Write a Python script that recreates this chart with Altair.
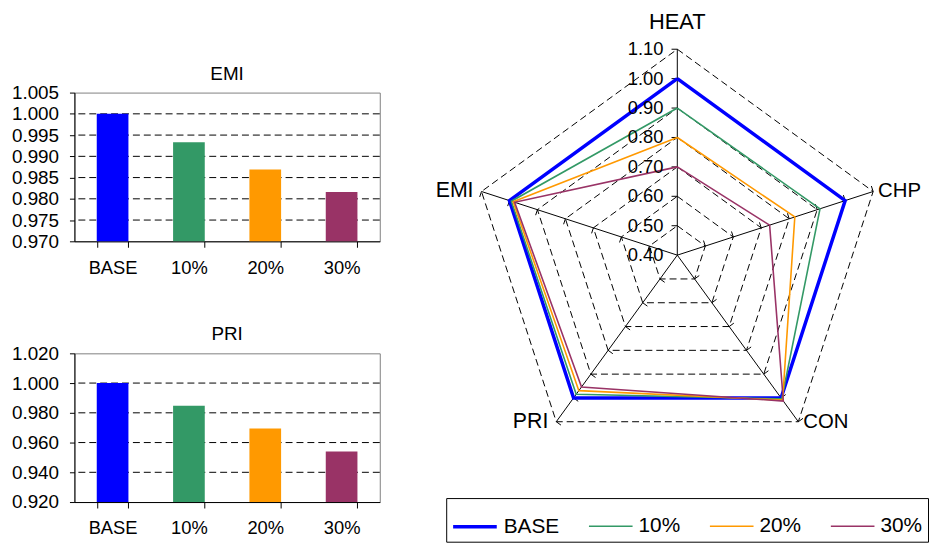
import altair as alt
import pandas as pd

# ---------------- data ----------------
series = ["BASE", "10%", "20%", "30%"]
series_colors = ["#0000FF", "#339966", "#FF9900", "#993366"]
series_widths = [3.5, 1.6, 1.6, 1.6]

emi_values = [1.000, 0.9933, 0.9869, 0.9816]
pri_values = [1.000, 0.9848, 0.9694, 0.9540]
emi_ticks = [0.970, 0.975, 0.980, 0.985, 0.990, 0.995, 1.000, 1.005]
pri_ticks = [0.920, 0.940, 0.960, 0.980, 1.000, 1.020]

radar_axes = ["HEAT", "CHP", "CON", "PRI", "EMI"]
heat_values = [1.00, 0.90, 0.80, 0.70]
chp_values = [1.00, 0.91, 0.82, 0.73]
con_values = [1.000, 1.004, 1.009, 1.013]
pri_radar_values = pri_values
emi_radar_values = emi_values
radar_ticks = [0.40, 0.50, 0.60, 0.70, 0.80, 0.90, 1.00, 1.10]

# ---------------- style / layout ----------------
FONT = "Liberation Sans"
S = 207.7                 # pixels per radar unit
XMIN, XMAX = -1.185, 1.17
YMIN, YMAX = -0.915, 1.189

color_scale = alt.Scale(domain=series, range=series_colors)


def bar_panel(title, values, ticks):
    df = pd.DataFrame({"series": series, "value": values})
    grid_df = pd.DataFrame({"g": ticks[1:-1]})
    ys = alt.Scale(domain=[ticks[0], ticks[-1]], nice=False, zero=False)
    yaxis = alt.Axis(values=ticks, format=".3f", title=None, grid=False,
                     tickSize=5, labelPadding=11, labelFontSize=19,
                     labelFont=FONT, domainColor="black", tickColor="black",
                     labelColor="black")
    xaxis = alt.Axis(title=None, labelAngle=0, tickBand="extent", tickSize=6,
                     labelPadding=11, labelFontSize=18.5, labelFont=FONT,
                     domainColor="black", tickColor="black", labelColor="black")
    grid = alt.Chart(grid_df).mark_rule(color="black", strokeDash=[7, 4],
                                        strokeWidth=1).encode(
        y=alt.Y("g:Q", scale=ys, axis=yaxis))
    bars = alt.Chart(df).mark_bar().encode(
        x=alt.X("series:N", sort=series,
                scale=alt.Scale(paddingInner=0.585, paddingOuter=0.2925),
                axis=xaxis),
        y=alt.Y("value:Q", scale=ys, axis=yaxis),
        y2=alt.datum(ticks[0]),
        color=alt.Color("series:N", scale=color_scale, legend=None),
    )
    return alt.layer(grid, bars).properties(
        width=308, height=150,
        title=alt.TitleParams(title, fontSize=19, fontWeight="normal",
                              font=FONT, color="black", offset=0),
    )


emi_chart = bar_panel("EMI", emi_values, emi_ticks)
pri_chart = bar_panel("PRI", pri_values, pri_ticks)

spacer = alt.Chart(pd.DataFrame({"a": []})).mark_point(opacity=0).properties(
    width=300, height=6, view=alt.ViewBackground(stroke=None))

left = alt.vconcat(spacer, emi_chart, pri_chart, spacing=48)

# ---------------- radar ----------------
value_table = [heat_values, chp_values, con_values, pri_radar_values, emi_radar_values]
rows = []
for si, s in enumerate(series):
    for k in range(6):
        rows.append({"series": s, "k": k, "v": value_table[k % 5][si]})
radar_df = pd.DataFrame(rows)

ring_rows = []
for lv in radar_ticks[1:]:
    for k in range(6):
        ring_rows.append({"level": lv, "k": k, "v": lv})
ring_df = pd.DataFrame(ring_rows)

tick_rows = []
for k in range(5):
    for lv in radar_ticks[1:]:
        tick_rows.append({"k": k, "v": lv})
tick_df = pd.DataFrame(tick_rows)

spoke_df = pd.DataFrame({"k": list(range(5)), "name": radar_axes})
rlabel_df = pd.DataFrame({"v": radar_ticks})

xs = alt.Scale(domain=[XMIN, XMAX], nice=False, zero=False)
ys = alt.Scale(domain=[YMIN, YMAX], nice=False, zero=False)

THETA = "(PI/2 - datum.k * 2 * PI / 5)"
R = "((datum.v - 0.4) / 0.7)"


def polar(chart):
    return chart.transform_calculate(
        px=f"{R} * cos{THETA}",
        py=f"{R} * sin{THETA}",
    )


rings = polar(alt.Chart(ring_df)).mark_line(
    color="black", strokeDash=[7, 4], strokeWidth=1).encode(
    x=alt.X("px:Q", scale=xs, axis=None),
    y=alt.Y("py:Q", scale=ys, axis=None),
    detail="level:N",
    order="k:Q",
)

spokes = alt.Chart(spoke_df).transform_calculate(
    ox="0", oy="0",
    ex=f"cos{THETA}", ey=f"sin{THETA}",
).mark_rule(color="black", strokeWidth=1).encode(
    x=alt.X("ox:Q", scale=xs, axis=None),
    y=alt.Y("oy:Q", scale=ys, axis=None),
    x2="ex:Q", y2="ey:Q",
)

ticks = polar(alt.Chart(tick_df)).transform_calculate(
    tx=f"datum.px - 0.028 * sin{THETA}",
    ty=f"datum.py + 0.028 * cos{THETA}",
).mark_rule(color="black", strokeWidth=1).encode(
    x=alt.X("px:Q", scale=xs, axis=None),
    y=alt.Y("py:Q", scale=ys, axis=None),
    x2="tx:Q", y2="ty:Q",
)

legend = alt.Legend(
    orient="none", legendX=13, legendY=492, direction="horizontal", title=None,
    symbolType="stroke", symbolSize=1936,
    labelFontSize=21, labelFont=FONT, labelColor="black", labelOffset=5,
    columnPadding=25, padding=5,
    strokeColor="black", fillColor="white", labelLimit=0,
)

lines = polar(alt.Chart(radar_df)).mark_line().encode(
    x=alt.X("px:Q", scale=xs, axis=None),
    y=alt.Y("py:Q", scale=ys, axis=None),
    order="k:Q",
    color=alt.Color("series:N", scale=color_scale, legend=legend),
    strokeWidth=alt.StrokeWidth(
        "series:N", scale=alt.Scale(type="ordinal", domain=series, range=series_widths),
        legend=legend),
)

rlabels = alt.Chart(rlabel_df).transform_calculate(
    px="0", py=R,
).mark_text(align="right", baseline="middle", dx=-14, fontSize=18.5,
            font=FONT, color="black").encode(
    x=alt.X("px:Q", scale=xs, axis=None),
    y=alt.Y("py:Q", scale=ys, axis=None),
    text=alt.Text("v:Q", format=".2f"),
)


def axis_label(names, size, **kw):
    return alt.Chart(spoke_df).transform_filter(
        alt.FieldOneOfPredicate(field="name", oneOf=names)
    ).transform_calculate(
        px=f"cos{THETA}", py=f"sin{THETA}",
    ).mark_text(fontSize=size, font=FONT, color="black", **kw).encode(
        x=alt.X("px:Q", scale=xs, axis=None),
        y=alt.Y("py:Q", scale=ys, axis=None),
        text="name:N",
    )


lab_top = axis_label(["HEAT"], 22, align="center", baseline="alphabetic", dy=-20)
lab_right = axis_label(["CHP", "CON"], 20.5, align="left", baseline="middle", dx=5)
lab_left = axis_label(["EMI", "PRI"], 21.5, align="right", baseline="middle", dx=-8)

radar = alt.layer(
    rings, spokes, ticks, lines, rlabels, lab_top, lab_right, lab_left
).properties(
    width=(XMAX - XMIN) * S,
    height=(YMAX - YMIN) * S,
    view=alt.ViewBackground(stroke=None),
)

chart = alt.hconcat(left, radar, spacing=53).resolve_scale(
    color="independent", strokeWidth="independent"
).resolve_legend(color="independent", strokeWidth="independent").properties(
    padding={"left": 2, "top": 0, "right": 0, "bottom": 0}
).configure(font=FONT).configure_view(stroke="#808080")

chart.save("out.html", embed_options={"renderer": "svg", "actions": False})
